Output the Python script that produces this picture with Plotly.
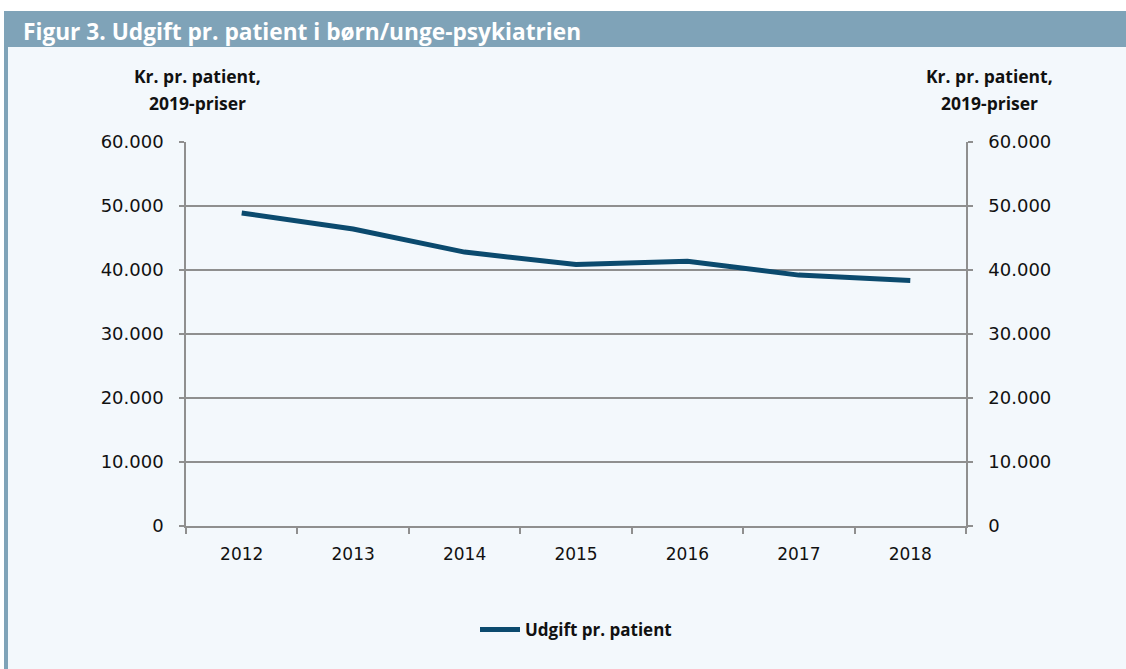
import plotly.graph_objects as go

years = ["2012", "2013", "2014", "2015", "2016", "2017", "2018"]
udgift = [48900, 46400, 42800, 40850, 41350, 39200, 38350]
y_ticks = [0, 10000, 20000, 30000, 40000, 50000, 60000]
title_text = "Figur 3. Udgift pr. patient i børn/unge-psykiatrien"
axis_title_lines = ["Kr. pr. patient,", "2019-priser"]
series_name = "Udgift pr. patient"

W, H = 1126, 669
L, R, T, B = 186, 966, 142, 526
pw, ph = R - L, B - T

def px(x):
    return (x - L) / pw

def py(y):
    return (B - y) / ph

BG = "#f3f8fc"
BAR = "#7fa3b8"
GRID = "#8f8f8f"
LINE = "#0b4a6e"
FONT = "Open Sans"
TICKFONT = "DejaVu Sans"

fig = go.Figure()
fig.add_trace(go.Scatter(x=years, y=udgift, mode="lines", name=series_name,
                         line=dict(color=LINE, width=5), yaxis="y"))
fig.add_trace(go.Scatter(x=years, y=udgift, mode="lines", showlegend=False,
                         line=dict(color="rgba(0,0,0,0)", width=0), yaxis="y2",
                         hoverinfo="skip"))

yax = dict(range=[0, 60000], tickvals=y_ticks, tickformat=",d",
           showgrid=True, gridcolor=GRID, gridwidth=1.5,
           showline=True, linecolor=GRID, linewidth=1.5,
           ticks="outside", ticklen=5, tickcolor=GRID, tickwidth=1.5,
           zeroline=False, fixedrange=True,
           tickfont=dict(family=TICKFONT, size=18, color="#111111"),
           ticklabelstandoff=12)

annotations = [
    dict(text=title_text, xref="paper", yref="paper",
         x=px(21), y=py(31), xanchor="left", yanchor="middle", showarrow=False,
         font=dict(family=FONT, size=22.7, color="white", weight="bold")),
]
for cx in (197, 990):
    for line_text, cy in zip(axis_title_lines, (76, 103)):
        annotations.append(dict(text=line_text, xref="paper", yref="paper", x=px(cx), y=py(cy),
                                xanchor="center", yanchor="middle", showarrow=False,
                                font=dict(family=FONT, size=17.5, color="#111111", weight="bold")))

fig.update_layout(
    width=W, height=H,
    margin=dict(l=L, r=W - R, t=T, b=H - B),
    paper_bgcolor=BG, plot_bgcolor=BG,
    separators=",.",
    font=dict(family=FONT, color="#111111"),
    xaxis=dict(type="category", tickson="boundaries", ticks="outside",
               range=[-0.5, 6.5], fixedrange=True,
               ticklen=6, tickcolor=GRID, tickwidth=1.5,
               showline=True, linecolor=GRID, linewidth=1.5, showgrid=False,
               tickfont=dict(family=TICKFONT, size=17, color="#111111"),
               ticklabelstandoff=12),
    yaxis=yax,
    yaxis2=dict(yax, overlaying="y", side="right", showgrid=False),
    showlegend=True,
    legend=dict(orientation="h", x=0.5, xanchor="center", y=py(630), yanchor="middle",
                bgcolor="rgba(0,0,0,0)",
                font=dict(family=FONT, size=17, color="#111111", weight="bold"),
                itemwidth=40),
    shapes=[
        dict(type="rect", xref="paper", yref="paper", x0=px(0), x1=px(W), y0=py(0), y1=py(11),
             fillcolor="white", line=dict(width=0), layer="below"),
        dict(type="rect", xref="paper", yref="paper", x0=px(0), x1=px(4), y0=py(0), y1=py(H),
             fillcolor="white", line=dict(width=0), layer="below"),
        dict(type="rect", xref="paper", yref="paper", x0=px(4), x1=px(W), y0=py(11), y1=py(47),
             fillcolor=BAR, line=dict(width=0), layer="below"),
        dict(type="rect", xref="paper", yref="paper", x0=px(4), x1=px(8), y0=py(47), y1=py(H),
             fillcolor=BAR, line=dict(width=0), layer="below"),
    ],
    annotations=annotations,
)

fig.write_html("out.html", config={"displayModeBar": False},
               post_script="document.body.style.margin='0';document.body.style.overflow='hidden';")
